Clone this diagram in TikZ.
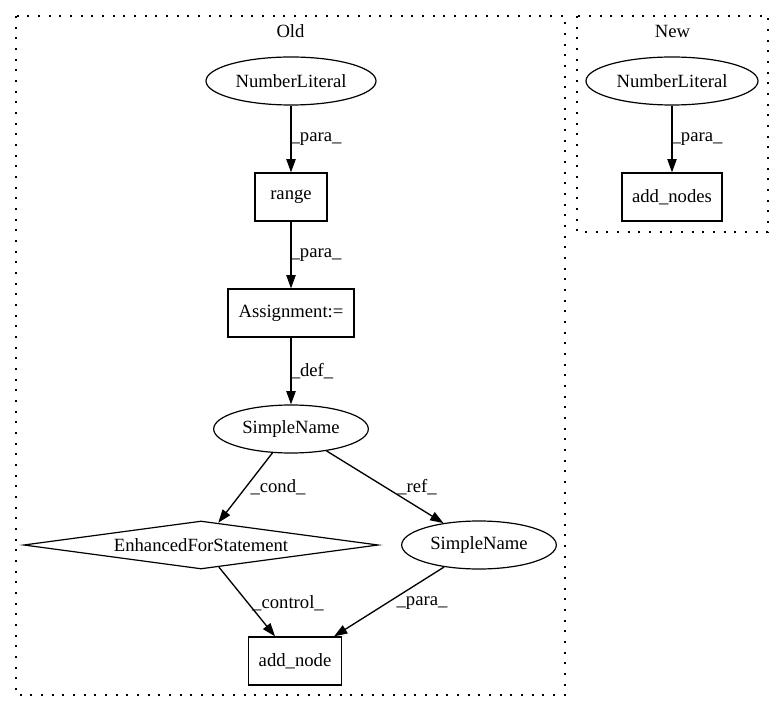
\documentclass[tikz,border=0pt]{standalone}
\usepackage{fontspec}
\setmainfont{Liberation Serif}
\usetikzlibrary{arrows.meta,shapes.geometric}
\tikzstyle{gv}=[draw, line width=0.9pt, inner sep=0pt, font=\fontsize{14}{16}\selectfont]
\tikzstyle{oval}=[gv, ellipse, minimum height=36pt]
\tikzstyle{box}=[gv, rectangle, minimum height=36pt]
\tikzstyle{decision}=[gv, diamond, aspect=7, minimum height=36pt]
\tikzstyle{lab}=[inner sep=0pt, font=\fontsize{14}{16}\selectfont]
\tikzstyle{cluster}=[line width=0.9pt, dash pattern=on 1.5pt off 6.5pt]
\tikzstyle{flow}=[line width=1pt, -{Triangle[length=10pt,width=7pt]}]

\begin{document}
\begin{tikzpicture}[x=0.75pt,y=-0.75pt]
	\useasboundingbox (0,0) rectangle (784,712);
	\draw[cluster] (16,16) rectangle (565,695);
	\draw[cluster] (577,16) rectangle (768,232);
	\node[lab] (oldtitle) at (290.5,31) {Old};
	\node[lab] (newtitle) at (672.5,31) {New};
	% old
	\node[oval, minimum width=127.5pt] (numlit) at (291,81) {NumberLiteral};
	\node[box, minimum width=54pt] (range) at (291,197) {range};
	\node[box, minimum width=94.5pt] (assign) at (291,313) {Assignment:=};
	\node[oval, minimum width=116pt] (sname) at (291,429) {SimpleName};
	\node[decision, minimum width=266pt] (forstmt) at (201,545) {EnhancedForStatement};
	\node[oval, minimum width=116pt] (snameref) at (479,545) {SimpleName};
	\node[box, minimum width=70pt] (addnode) at (295,661) {add\_node};
	\draw[flow] (numlit) -- (range);
	\draw[flow] (range) -- (assign);
	\draw[flow] (assign) -- (sname);
	\draw[flow] (sname) -- (forstmt);
	\draw[flow] (sname) -- (snameref);
	\draw[flow] (forstmt) -- (addnode);
	\draw[flow] (snameref) -- (addnode);
	\node[lab] (l1) at (316,139) {\_para\_};
	\node[lab] (l2) at (316,255) {\_para\_};
	\node[lab] (l3) at (312,371) {\_def\_};
	\node[lab] (l4) at (278,487) {\_cond\_};
	\node[lab] (l5) at (417,487) {\_ref\_};
	\node[lab] (l6) at (288,603) {\_control\_};
	\node[lab] (l7) at (422,603) {\_para\_};
	% new
	\node[oval, minimum width=129pt] (numlitnew) at (672,81) {NumberLiteral};
	\node[box, minimum width=75pt] (addnodes) at (672,197) {add\_nodes};
	\draw[flow] (numlitnew) -- (addnodes);
	\node[lab] (l8) at (697,139) {\_para\_};
\end{tikzpicture}
\end{document}
